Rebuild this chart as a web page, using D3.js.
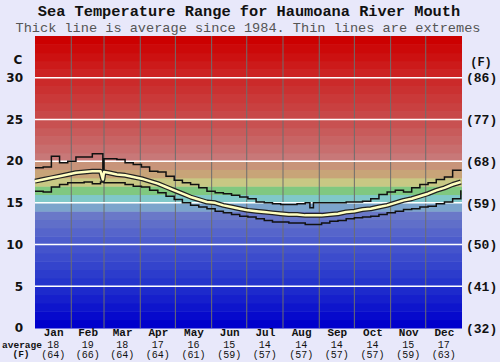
<!DOCTYPE html>
<html>
<head>
    <meta charset="utf-8">
    <title>Sea Temperature Range</title>
    <style>
        * { margin: 0; padding: 0; }
        body { background: #e8e8fa; }
        svg { display: block; }
    </style>
    <script src="https://cdn.jsdelivr.net/npm/d3@7"></script>
</head>
<body>
<div id="root"></div>
<script>
    // ---- data ----
    var monthNames = ["Jan", "Feb", "Mar", "Apr", "May", "Jun", "Jul", "Aug", "Sep", "Oct", "Nov", "Dec"];
    var monthStartDays = [0, 31, 59, 90, 120, 151, 181, 212, 243, 273, 304, 334, 365];
    var monthAvgC = [18, 19, 18, 17, 16, 15, 14, 14, 14, 14, 15, 17];
    var monthAvgF = [64, 66, 64, 64, 61, 59, 57, 57, 57, 57, 59, 63];
    var celsiusTicks = [0, 5, 10, 15, 20, 25, 30];
    var fahrenheitLabels = ["(32)", "(41)", "(50)", "(59)", "(68)", "(77)", "(86)"];

    // day of year of each sample
    var days = [0, 7, 14, 21, 28, 35, 42, 49, 56, 58, 59, 63, 70, 77, 84, 91, 98, 105, 112, 119, 126, 133,
        140, 147, 154, 161, 168, 175, 182, 189, 196, 203, 210, 217, 224, 231, 235, 238, 245, 252,
        259, 266, 273, 280, 287, 294, 301, 308, 315, 322, 329, 336, 343, 350, 357, 364];
    var avgTemp = [17.6, 17.8, 18.0, 18.2, 18.4, 18.6, 18.7, 18.8, 18.8, 17.8, 18.7, 18.6, 18.4, 18.3, 18.1, 17.9, 17.6, 17.3, 16.9, 16.5, 16.1, 15.7,
        15.4, 15.1, 15.0, 14.7, 14.5, 14.3, 14.1, 14.0, 13.9, 13.8, 13.7, 13.6, 13.6, 13.5, 13.5, 13.5, 13.5, 13.6,
        13.7, 13.9, 14.0, 14.2, 14.3, 14.5, 14.7, 15.0, 15.3, 15.5, 15.8, 16.1, 16.5, 16.8, 17.2, 17.5];
    var maxTemp = [19.2, 19.3, 20.6, 19.8, 20.0, 20.5, 20.5, 20.9, 20.9, 17.7, 20.3, 20.3, 20.2, 19.8, 19.6, 19.3, 18.8, 18.7, 18.2, 17.7, 17.4, 17.2,
        16.8, 16.4, 16.2, 16.1, 15.9, 15.7, 15.5, 15.1, 15.0, 14.9, 14.8, 14.8, 14.9, 15.0, 14.4, 15.0, 15.0, 15.0,
        15.0, 15.1, 15.1, 15.2, 15.5, 16.0, 16.3, 16.5, 16.3, 16.8, 17.2, 17.4, 17.8, 18.1, 18.9, 19.0];
    var minTemp = [16.4, 16.3, 16.9, 17.2, 17.4, 17.4, 17.5, 17.3, 17.5, 17.5, 17.4, 17.4, 17.4, 17.2, 17.0, 16.9, 16.5, 16.2, 15.8, 15.4, 15.0, 14.7,
        14.5, 14.3, 14.0, 13.8, 13.6, 13.4, 13.3, 13.1, 12.9, 12.7, 12.7, 12.6, 12.6, 12.4, 12.4, 12.4, 12.6, 12.8,
        12.9, 13.1, 13.2, 13.3, 13.4, 13.6, 13.8, 14.0, 14.2, 14.3, 14.5, 14.6, 14.9, 15.1, 15.5, 16.5];

    render();

    function render() {
        var width = 500, height = 362;
        var plotLeft = 35, plotRight = 462, plotTop = 36, plotBottom = 328;

        var svg = d3.select("#root").append("svg").attr("width", width).attr("height", height);

        var x = d3.scaleLinear().domain([0, 365]).range([plotLeft, plotRight]);
        var y = d3.scaleLinear().domain([0, 35]).range([plotBottom, plotTop]);

        // band colours, one per degree
        var bandColor = d3.scaleLinear()
            .domain([0, 5, 10, 13, 14, 15, 16, 17, 18, 19, 20, 22, 25, 30, 34])
            .range(["#0000cc", "#2434cc", "#4c5ccc", "#6a78c8", "#7ca4cc", "#80c8c8", "#80c880", "#c8c884",
                "#c8a478", "#c8947a", "#c87878", "#c86464", "#c84848", "#cc2222", "#cc0000"])
            .interpolate(d3.interpolateRgb);

        svg.append("g").selectAll("rect").data(d3.range(0, 35)).enter()
            .append("rect")
            .attr("x", plotLeft)
            .attr("width", plotRight - plotLeft)
            .attr("y", function (d) { return y(d + 1); })
            .attr("height", function (d) { return y(d) - y(d + 1) + 0.5; })
            .attr("fill", function (d) { return bandColor(d); });

        // month grid lines
        svg.append("g").selectAll("line").data(monthStartDays.slice(1, 12)).enter()
            .append("line")
            .attr("x1", function (d) { return x(d); })
            .attr("x2", function (d) { return x(d); })
            .attr("y1", plotTop).attr("y2", plotBottom)
            .attr("stroke", "#6e6e6e").attr("stroke-width", 1);

        // white horizontal lines
        svg.append("g").selectAll("line").data(celsiusTicks.slice(1)).enter()
            .append("line")
            .attr("x1", plotLeft).attr("x2", plotRight)
            .attr("y1", function (d) { return y(d); })
            .attr("y2", function (d) { return y(d); })
            .attr("stroke", "#ffffff").attr("stroke-width", 1.5);

        // lines
        var stepLine = d3.line()
            .x(function (d, i) { return x(days[i]); })
            .y(function (d) { return y(d); })
            .curve(d3.curveStepAfter);
        var smooth = d3.line()
            .x(function (d, i) { return x(days[i]); })
            .y(function (d) { return y(d); });

        svg.append("path").attr("d", stepLine(maxTemp)).attr("fill", "none")
            .attr("stroke", "#111").attr("stroke-width", 1.5);
        svg.append("path").attr("d", stepLine(minTemp)).attr("fill", "none")
            .attr("stroke", "#111").attr("stroke-width", 1.5);
        svg.append("path").attr("d", smooth(avgTemp)).attr("fill", "none")
            .attr("stroke", "#222").attr("stroke-width", 5).attr("stroke-linejoin", "round");
        svg.append("path").attr("d", smooth(avgTemp)).attr("fill", "none")
            .attr("stroke", "#ffffc0").attr("stroke-width", 2.5).attr("stroke-linejoin", "round");

        // axes
        var yLeft = d3.axisLeft(y).tickValues(celsiusTicks).tickSize(0).tickPadding(12)
            .tickFormat(d3.format("d"));
        var gl = svg.append("g").attr("transform", "translate(" + plotLeft + ",0)").call(yLeft);
        gl.select(".domain").remove();
        gl.selectAll("text").attr("font-family", "DejaVu Sans").attr("font-weight", "bold")
            .attr("font-size", 12).attr("fill", "#111");

        var yRight = d3.axisRight(y).tickValues(celsiusTicks).tickSize(0).tickPadding(4)
            .tickFormat(function (d, i) { return fahrenheitLabels[i]; });
        var gr = svg.append("g").attr("transform", "translate(" + plotRight + ",0)").call(yRight);
        gr.select(".domain").remove();
        gr.selectAll("text").attr("font-family", "Liberation Mono").attr("font-weight", "bold")
            .attr("font-size", 13).attr("fill", "#111");

        svg.append("text").attr("x", 18).attr("y", 64).attr("text-anchor", "middle")
            .attr("font-family", "DejaVu Sans").attr("font-weight", "bold").attr("font-size", 12)
            .attr("fill", "#111").text("C");
        svg.append("text").attr("x", 481).attr("y", 66).attr("text-anchor", "middle")
            .attr("font-family", "Liberation Mono").attr("font-weight", "bold").attr("font-size", 12)
            .attr("fill", "#111").text("(F)");

        // bottom month labels
        var mids = monthNames.map(function (m, i) { return (monthStartDays[i] + monthStartDays[i + 1]) / 2; });
        var xAxis = d3.axisBottom(x).tickValues(mids).tickSize(0).tickPadding(0)
            .tickFormat(function (d, i) { return monthNames[i]; });
        var gx = svg.append("g").attr("transform", "translate(0," + plotBottom + ")").call(xAxis);
        gx.select(".domain").remove();
        gx.selectAll("text").attr("font-family", "Liberation Mono").attr("font-weight", "bold")
            .attr("font-size", 11).attr("fill", "#111");

        svg.append("g").selectAll("text").data(monthAvgC).enter()
            .append("text")
            .attr("x", function (d, i) { return x(mids[i]); })
            .attr("y", 348)
            .attr("text-anchor", "middle")
            .attr("font-family", "Liberation Mono").attr("font-size", 10).attr("fill", "#111")
            .text(function (d) { return d; });
        svg.append("g").selectAll("text").data(monthAvgF).enter()
            .append("text")
            .attr("x", function (d, i) { return x(mids[i]); })
            .attr("y", 357.5)
            .attr("text-anchor", "middle")
            .attr("font-family", "Liberation Mono").attr("font-size", 10).attr("fill", "#111")
            .text(function (d) { return "(" + d + ")"; });

        svg.append("text").attr("x", 22).attr("y", 347.5).attr("text-anchor", "middle")
            .attr("font-family", "Liberation Mono").attr("font-weight", "bold").attr("font-size", 9.5)
            .attr("fill", "#111").text("average");
        svg.append("text").attr("x", 21).attr("y", 357).attr("text-anchor", "middle")
            .attr("font-family", "Liberation Mono").attr("font-weight", "bold").attr("font-size", 9.5)
            .attr("fill", "#111").text("(F)");

        // titles
        svg.append("text").attr("x", 249).attr("y", 16).attr("text-anchor", "middle")
            .attr("font-family", "Liberation Mono").attr("font-weight", "bold").attr("font-size", 15.3)
            .attr("fill", "#111").text("Sea Temperature Range for Haumoana River Mouth");
        svg.append("text").attr("x", 248).attr("y", 32).attr("text-anchor", "middle")
            .attr("font-family", "Liberation Mono").attr("font-size", 13.6)
            .attr("fill", "#555").text("Thick line is average since 1984. Thin lines are extremes");
    }
</script>
</body>
</html>
